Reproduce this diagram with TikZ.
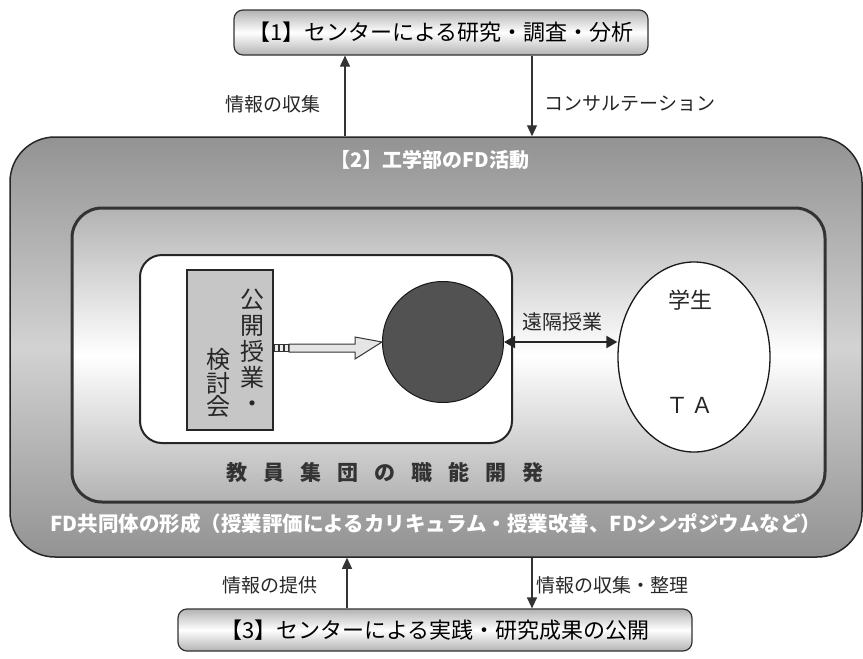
\documentclass[tikz,border=0pt]{standalone}
\usepackage{fontspec}
\setmainfont{Noto Sans CJK JP}
\usetikzlibrary{arrows.meta,shapes.geometric}
\tikzset{
  pbox/.style={draw=black!80, line width=1.2pt, rounded corners=9pt, top color=gray!60, bottom color=gray!60, middle color=white, inner sep=0pt},
  lbl/.style={font=\fontsize{19}{21}\selectfont, text=black!85, inner sep=0pt},
  arr/.style={draw=black!80, line width=1.2pt, -{Triangle[length=11pt,width=10pt]}},
  darr/.style={draw=black!85, line width=2pt, {Triangle[length=11pt,width=12pt]}-{Triangle[length=11pt,width=12pt]}},
  wtxt/.style={text=white, inner sep=0pt},
}
\begin{document}
\begin{tikzpicture}[x=1pt,y=-1pt]
\useasboundingbox (0,0) rectangle (863,659);
% outer FD box
\node[draw=black!85, line width=1.5pt, rounded corners=45pt, top color=gray!85, bottom color=gray!85, middle color=gray!35,
      minimum width=852pt, minimum height=420pt] (outer) at (436,347) {};
% middle box
\node[draw=black!80, line width=3pt, rounded corners=30pt, top color=gray!60, bottom color=gray!60, middle color=white,
      minimum width=753pt, minimum height=294pt] (mid) at (448.5,355) {};
% innermost box
\node[draw=black!85, line width=2pt, rounded corners=22pt, fill=white,
      minimum width=372pt, minimum height=188pt] (inner) at (326,349) {};
% gray rect
\node[draw=black!85, line width=1.2pt, fill=gray!45, minimum width=86pt, minimum height=160pt] (grect) at (230,350) {};
\node[lbl, font=\fontsize{24}{26}\selectfont, align=center] (col1) at (252,351) {公\\開\\授\\業\\・};
\node[lbl, font=\fontsize{24}{23.5}\selectfont, align=center] (col2) at (218,383) {検\\討\\会};
% circle
\node[circle, draw=black!90, line width=1pt, fill=black!68, minimum size=121pt] (circ) at (443,342) {};
% ellipse
\node[ellipse, draw=black!90, line width=1.3pt, fill=white, minimum width=152pt, minimum height=190pt] (ell) at (694,357) {};
\node[lbl, font=\fontsize{22}{24}\selectfont] (gak) at (690,300) {学生};
\node[lbl, font=\fontsize{22}{24}\selectfont] (ta) at (690,405) {Ｔ\,Ａ};
% block arrow
\draw[black!80, line width=1pt, fill=gray!20]
  (289,344) -- (355,344) -- (355,337) -- (circ.west) -- (355,359) -- (355,352) -- (289,352) -- cycle;
\foreach \xx in {274,279,284}
  \draw[black!80, line width=0.8pt, fill=gray!15] (\xx,344.5) rectangle (\xx+4,351.5);
% double arrow
\draw[darr] (circ.east) -- (ell.west |- circ.east);
\node[lbl, font=\fontsize{20}{22}\selectfont] (enkaku) at (562,322) {遠隔授業};
% captions inside
\node[wtxt, font=\fontsize{20}{22}\selectfont\bfseries] (t2) at (430,160) {【2】工学部のFD活動};
\node[lbl, font=\fontsize{21}{23}\selectfont\bfseries, text=black!80] (kyoin) at (385,472)
  {教\hspace{16pt}員\hspace{16pt}集\hspace{16pt}団\hspace{16pt}の\hspace{16pt}職\hspace{16pt}能\hspace{16pt}開\hspace{16pt}発};
\node[wtxt, font=\fontsize{20.5}{22}\selectfont\bfseries] (fd) at (436,524) {FD共同体の形成（授業評価によるカリキュラム・授業改善、FDシンポジウムなど）};
% top box
\node[pbox, minimum width=414pt, minimum height=45pt, font=\fontsize{22}{24}\selectfont] (top) at (441,32.5) {【1】センターによる研究・調査・分析};
% bottom box
\node[pbox, minimum width=514pt, minimum height=42pt, font=\fontsize{22}{24}\selectfont] (bot) at (435,630) {【3】センターによる実践・研究成果の公開};
% connectors
\coordinate (c1) at (345,0);
\coordinate (c2) at (532,0);
\coordinate (c3) at (347,0);
\draw[arr] (outer.north -| c1) -- (top.south -| c1);
\draw[arr] (top.south -| c2) -- (outer.north -| c2);
\draw[arr] (bot.north -| c3) -- (outer.south -| c3);
\draw[arr] (outer.south -| c2) -- (bot.north -| c2);
\node[lbl] (l1) at (273,104) {情報の収集};
\node[lbl] (l2) at (630,104) {コンサルテーション};
\node[lbl] (l3) at (270,585) {情報の提供};
\node[lbl] (l4) at (612,585) {情報の収集・整理};
\end{tikzpicture}
\end{document}
